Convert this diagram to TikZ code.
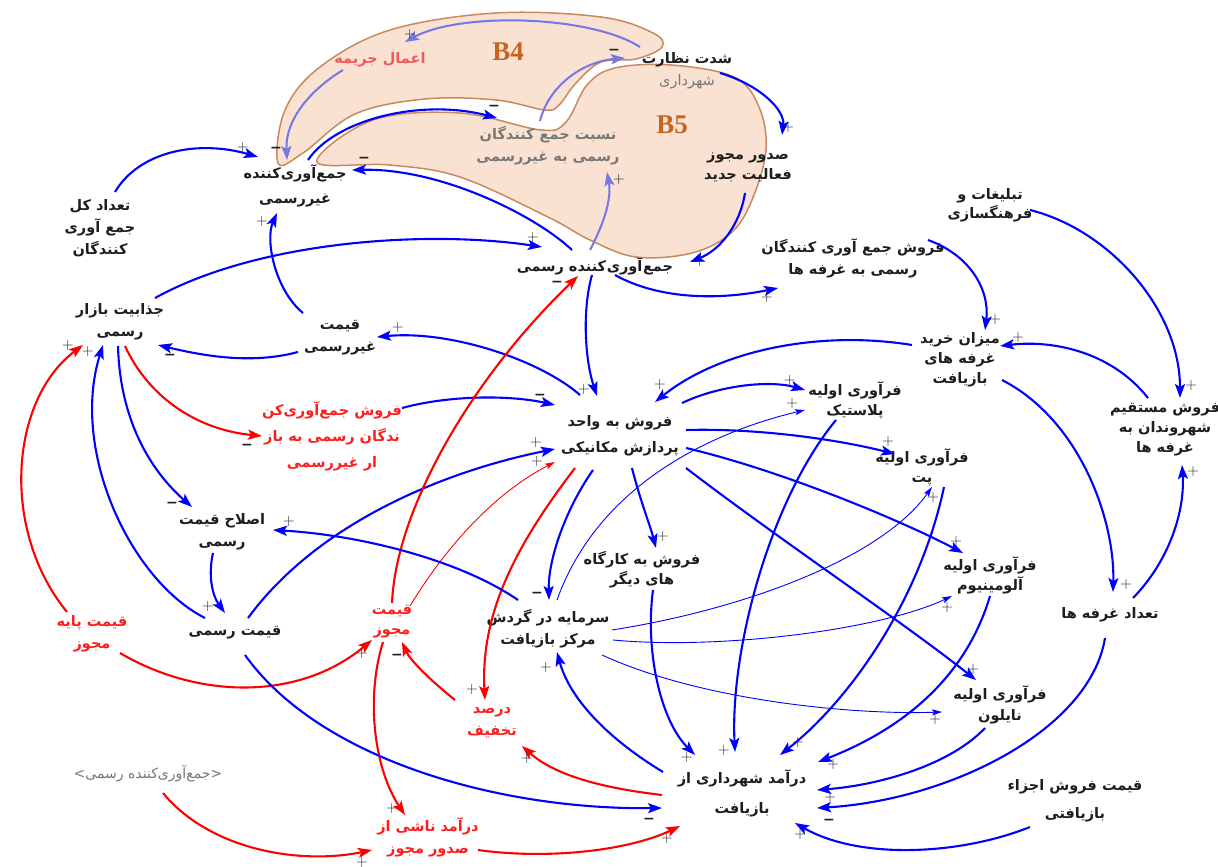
\documentclass[tikz,border=0pt]{standalone}
\usepackage{fontspec}
\usetikzlibrary{arrows.meta,calc}
\TeXXeTstate=1
\newfontfamily\fafont[Script=Arabic]{DejaVu Sans}
\newfontfamily\plainf{DejaVu Sans}
\newfontfamily\serifb{Liberation Serif}
\newcommand\fa[1]{\beginR#1\endR}
\definecolor{cblue}{RGB}{0,0,255}
\definecolor{cred}{RGB}{255,0,0}
\definecolor{cpurple}{RGB}{118,118,228}
\definecolor{blobfill}{RGB}{250,226,210}
\definecolor{blobdraw}{RGB}{200,137,95}
\definecolor{txtblack}{RGB}{30,30,30}
\definecolor{txtgray}{RGB}{120,120,120}
\definecolor{txtred}{RGB}{255,30,30}
\definecolor{jarred}{RGB}{240,90,90}
\definecolor{loopc}{RGB}{196,100,30}
\tikzset{
  lbl/.style={font=\fafont\bfseries\fontsize{14.5}{22}\selectfont, align=center, inner sep=1pt, text=txtblack},
  rlbl/.style={lbl, text=txtred},
  glbl/.style={lbl, text=txtgray},
  looplbl/.style={font=\serifb\bfseries\fontsize{27}{27}\selectfont, text=loopc, inner sep=0pt},
  sgnp/.style={font=\fontsize{16}{16}\selectfont, text=txtblack, inner sep=0pt},
  sgnm/.style={font=\fafont\bfseries\fontsize{14}{14}\selectfont, text=txtblack, inner sep=0pt},
  tipb/.style={-{Stealth[length=14pt,width=10pt,inset=3pt]}},
  tipt/.style={-{Stealth[length=10pt,width=6pt,inset=2pt]}},
  cb/.style={color=cblue, line width=2.1pt, tipb},
  ctb/.style={color=cblue, line width=0.9pt, tipt},
  cr/.style={color=cred, line width=2.1pt, tipb},
  ctr/.style={color=cred, line width=0.9pt, tipt},
  cp/.style={color=cpurple, line width=2pt, tipb},
  blob/.style={fill=blobfill, draw=blobdraw, line width=1.5pt}
}
\newcommand\fs[1]{\fafont\bfseries\fontsize{14.5}{#1}\selectfont}
\newcommand\cn[7]{\draw[#1] ($(#2)+(#3)$) .. controls (#4) and (#5) .. ($(#6)+(#7)$);}
\begin{document}
\begin{tikzpicture}[x=1pt,y=-1pt]
\useasboundingbox (0,0) rectangle (1218,867);
\fill[white] (0,0) rectangle (1218,867);
% loops
\draw[blob] plot[smooth cycle, tension=0.6] coordinates {(278,163) (285,110) (320,67) (390,30) (496,13) (601,17) (653,33) (662,47) (636,59) (601,62) (576,83) (559,105) (545,110) (496,100) (425,99) (355,114) (303,153)};
\draw[blob] plot[smooth cycle, tension=0.6] coordinates {(317,162) (373,120) (460,113) (541,130) (566,122) (587,85) (615,68) (671,65) (734,77) (759,107) (766,150) (752,200) (731,233) (692,253) (636,257) (590,240) (548,217) (460,177) (390,165)};
\node[looplbl] (b4) at (508,52) {B4};
\node[looplbl] (b5) at (672,125) {B5};
% variables
\node[lbl] (nez) at (687,71) {\fa{شدت نظارت}\\{\color{txtgray}\mdseries\fa{شهرداری}}};
\node[lbl, text=jarred, font=\fs{20}] (jar) at (380,60) {\fa{اعمال جریمه}};
\node[glbl] (nesb) at (548,146) {\fa{نسبت جمع کنندگان}\\\fa{رسمی به غیررسمی}};
\node[lbl, font=\fs{20}] (sodur) at (748,167) {\fa{صدور مجوز}\\\fa{فعالیت جدید}};
\node[lbl, font=\fs{25}] (jgr) at (295,186) {\fa{جمع‌آوری‌کننده}\\\fa{غیررسمی}};
\node[lbl] (tkol) at (100,228) {\fa{تعداد کل}\\\fa{جمع آوری}\\\fa{کنندگان}};
\node[lbl] (jr) at (595,266) {\fa{جمع\kern0.6ptآوری\kern0.6ptکننده رسمی}};
\node[lbl] (fjg) at (853,258) {\fa{فروش جمع آوری کنندگان}\\\fa{رسمی به غرفه ها}};
\node[lbl, font=\fs{19}] (tab) at (990,205) {\fa{تبلیغات و}\\\fa{فرهنگسازی}};
\node[lbl] (jaz) at (120,322) {\fa{جذابیت بازار}\\\fa{رسمی}};
\node[lbl] (qg) at (340,338) {\fa{قیمت}\\\fa{غیررسمی}};
\node[lbl, font=\fs{20}] (mkh) at (960,360) {\fa{میزان خرید}\\\fa{غرفه های}\\\fa{بازیافت}};
\node[lbl, font=\fs{20}] (fm) at (1165,430) {\fa{فروش مستقیم}\\\fa{شهروندان به}\\\fa{غرفه ها}};
\node[rlbl, font=\fs{26}] (fjb) at (332,436) {\fa{فروش جمع‌آوری‌کن}\\\fa{ندگان رسمی به باز}\\\fa{ار غیررسمی}};
\node[lbl, font=\fs{26}] (fv) at (620,436) {\fa{فروش به واحد}\\\fa{پردازش مکانیکی}};
\node[lbl, font=\fs{20}] (fpl) at (855,400) {\fa{فرآوری اولیه}\\\fa{پلاستیک}};
\node[lbl, font=\fs{20}] (fpt) at (922,467) {\fa{فرآوری اولیه}\\\fa{پت}};
\node[lbl] (esl) at (222,532) {\fa{اصلاح قیمت}\\\fa{رسمی}};
\node[lbl, font=\fs{20}] (fk) at (642,570) {\fa{فروش به کارگاه}\\\fa{های دیگر}};
\node[lbl, font=\fs{20}] (fal) at (990,575) {\fa{فرآوری اولیه}\\\fa{آلومینیوم}};
\node[lbl] (tg) at (1110,615) {\fa{تعداد غرفه ها}};
\node[rlbl] (qpm) at (92,634) {\fa{قیمت پایه}\\\fa{مجوز}};
\node[lbl] (qr) at (235,633) {\fa{قیمت رسمی}};
\node[rlbl, font=\fs{20}] (qm) at (392,622) {\fa{قیمت}\\\fa{مجوز}};
\node[lbl] (sar) at (548,629) {\fa{سرمایه در گردش}\\\fa{مرکز بازیافت}};
\node[lbl, font=\fs{21}] (fny) at (1000,705) {\fa{فرآوری اولیه}\\\fa{نایلون}};
\node[rlbl] (dt) at (492,723) {\fa{درصد}\\\fa{تخفیف}};
\node[glbl, font=\fafont\fontsize{14}{20}\selectfont] (jrg) at (148,774) {{\plainf <}\fa{جمع‌آوری‌کننده رسمی}{\plainf >}};
\node[lbl, font=\fs{30}] (dsh) at (742,793) {\fa{درآمد شهرداری از}\\\fa{بازیافت}};
\node[lbl, font=\fs{28}] (qf) at (1075,801) {\fa{قیمت فروش اجزاء}\\\fa{بازیافتی}};
\node[rlbl] (dn) at (428,837) {\fa{درآمد ناشی از}\\\fa{صدور مجوز}};
% connectors inside loops
\cn{cp}{nez}{-47,-24}{590,15}{460,12}{jar}{25,-18}
\cn{cp}{jar}{-37,10}{310,90}{285,120}{jgr}{-8,-26}
\cn{cp}{nesb}{-8,-25}{548,88}{580,62}{nez}{-62,-13}
\cn{cp}{jr}{-5,-16}{603,225}{612,200}{nesb}{59,26}
\cn{cb}{jgr}{13,-26}{335,120}{420,98}{nesb}{-51,-28}
\cn{cb}{jr}{-23,-16}{535,215}{440,168}{jgr}{57,-16}
\cn{cb}{nez}{33,2}{760,85}{785,110}{sodur}{34,-32}
\cn{cb}{sodur}{-3,26}{740,225}{720,250}{jr}{95,-4}
% upper left
\cn{cb}{tkol}{15,-36}{140,150}{200,140}{jgr}{-37,-29}
\cn{cb}{qg}{-37,-25}{275,290}{265,240}{jgr}{-18,27}
\cn{cb}{jaz}{35,-24}{260,240}{430,230}{jr}{-53,-19}
\cn{cb}{qg}{-42,14}{250,365}{200,355}{jaz}{38,23}
\cn{cb}{fv}{-40,-41}{540,360}{450,330}{qg}{37,-1}
\cn{cb}{jr}{-3,9}{582,310}{585,360}{fv}{-23,-40}
\cn{cb}{jr}{20,9}{660,300}{720,300}{fjg}{-75,30}
\cn{cb}{fjb}{70,-28}{450,395}{510,395}{fv}{-65,-31}
\cn{cr}{jaz}{5,24}{150,400}{200,430}{fjb}{-70,0}
\cn{cb}{jaz}{-2,24}{120,420}{150,470}{esl}{-30,-25}
\cn{cb}{qr}{-30,-15}{130,580}{70,450}{jaz}{-17,23}
\cn{cr}{qpm}{-25,-22}{0,530}{10,400}{jaz}{-37,23}
\cn{cb}{esl}{-9,21}{208,575}{212,595}{qr}{-10,-20}
\cn{cb}{qr}{13,-15}{320,520}{450,470}{fv}{-65,13}
\cn{ctr}{qm}{18,-16}{450,540}{500,490}{fv}{-65,26}
\cn{cr}{qm}{0,-19}{396,510}{470,380}{jr}{-17,10}
% middle
\cn{cr}{fv}{-45,32}{520,540}{480,610}{dt}{-7,-23}
\cn{cb}{fv}{-27,34}{565,510}{548,560}{sar}{1,-29}
\cn{cb}{fv}{12,32}{640,500}{650,525}{fk}{14,-22}
\cn{ctb}{sar}{9,-29}{600,480}{720,430}{fpl}{-50,10}
\cn{ctb}{sar}{64,1}{740,610}{880,560}{fpt}{10,20}
\cn{ctb}{sar}{65,11}{720,650}{880,630}{fal}{-38,21}
\cn{ctb}{sar}{54,26}{700,700}{850,715}{fny}{-58,7}
\cn{cb}{sar}{-30,-29}{460,560}{360,535}{esl}{51,-2}
\cn{cb}{fk}{11,20}{645,650}{660,720}{dsh}{-47,-38}
\cn{cb}{dsh}{-79,-21}{610,740}{570,700}{sar}{9,23}
\cn{cr}{dsh}{-80,2}{620,790}{560,780}{dt}{30,23}
\cn{cr}{dt}{-37,-23}{430,680}{410,660}{qm}{10,20}
\cn{cr}{qpm}{28,19}{200,700}{300,700}{qm}{-20,18}
\cn{cr}{qm}{-9,20}{365,700}{375,770}{dn}{-23,-22}
\cn{cr}{jrg}{15,19}{210,850}{300,865}{dn}{-56,13}
\cn{cr}{dn}{50,13}{550,860}{630,850}{dsh}{-62,33}
\cn{cb}{qr}{10,22}{320,760}{500,810}{dsh}{-80,15}
% right side
\cn{cb}{qf}{-45,26}{960,855}{860,860}{dsh}{53,30}
\cn{cb}{tg}{-5,23}{1090,730}{950,800}{dsh}{75,15}
\cn{cb}{fny}{-15,23}{950,765}{880,785}{dsh}{75,-3}
\cn{cb}{fal}{0,21}{965,680}{900,730}{dsh}{76,-31}
\cn{cb}{fpt}{22,20}{920,600}{850,700}{dsh}{38,-38}
\cn{cb}{fpl}{-19,20}{770,500}{730,650}{dsh}{-7,-41}
\cn{cb}{fv}{62,-33}{720,385}{770,380}{fpl}{-50,-10}
\cn{cb}{fv}{66,-6}{760,428}{840,440}{fpt}{-27,-13}
\cn{cb}{fv}{66,12}{780,470}{900,520}{fal}{-27,-22}
\cn{cb}{fv}{66,32}{780,540}{900,620}{fny}{-24,-25}
\cn{cb}{mkh}{-48,-15}{820,330}{720,350}{fv}{35,-34}
\cn{cb}{fjg}{75,-18}{970,255}{990,290}{mkh}{25,-30}
\cn{cb}{tab}{40,5}{1110,230}{1180,310}{fm}{15,-32}
\cn{cb}{fm}{-17,-32}{1110,350}{1050,340}{mkh}{40,-14}
\cn{cb}{mkh}{42,20}{1080,420}{1115,520}{tg}{3,-23}
\cn{cb}{tg}{23,-17}{1170,560}{1185,510}{fm}{17,35}
% polarity signs
\foreach \q [count=\i] in {{410,35},{619,180},{788,128},{700,262},{243,148},{262,222},{533,238},{398,328},{584,390},{767,298},{88,352},{68,346},{208,607},{536,443},{537,462},{472,690},{663,537},{792,404},{933,498},{947,608},{935,720},{289,522},{687,757},{546,668},{527,758},{362,654},{392,808},{362,862},{667,838},{800,834},{830,797},{833,764},{798,742},{724,750},{790,381},{888,442},{956,542},{973,670},{660,385},{995,320},{1191,386},{1018,338},{1126,585},{1193,472}}
  {\node[sgnp] (p\i) at (\q) {+};}
\foreach \q [count=\i] in {{276,150},{614,52},{494,108},{364,160},{170,357},{540,397},{247,447},{172,505},{557,284},{537,595},{397,657},{649,821},{829,822}}
  {\node[sgnm] (m\i) at (\q) {−};}
\end{tikzpicture}
\end{document}
